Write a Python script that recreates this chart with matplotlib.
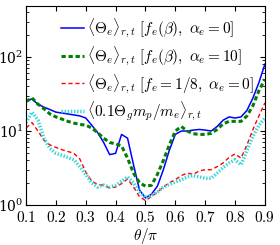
import matplotlib
matplotlib.use('Agg')
import matplotlib.pyplot as plt
import numpy as np

plt.rcParams['mathtext.fontset'] = 'cm'
plt.rcParams['font.family'] = 'serif'

theta = [0.10, 0.12, 0.14, 0.16, 0.18, 0.20, 0.22, 0.24, 0.26, 0.28,
         0.30, 0.32, 0.34, 0.36, 0.38, 0.40, 0.42, 0.44, 0.46, 0.48,
         0.50, 0.52, 0.54, 0.56, 0.58, 0.60, 0.62, 0.64, 0.66, 0.68,
         0.70, 0.72, 0.74, 0.76, 0.78, 0.80, 0.82, 0.84, 0.86, 0.88, 0.90]

# <Theta_e> with f_e(beta), alpha_e = 0
te_beta = [26, 27, 23, 21, 19.5, 18, 17.5, 17, 16.5, 16,
           15, 12, 9.5, 7, 4.8, 5.0, 9.0, 8.0, 3.5, 1.6,
           1.25, 1.4, 1.8, 3.0, 5.5, 9.0, 10, 10, 10.3, 10.5,
           10.3, 10, 11.5, 14, 15.5, 15, 15.5, 19, 28, 45, 80]

# <Theta_e> with f_e(beta), alpha_e = 10
te_beta_a10 = [25, 28, 23, 20, 17, 15.5, 14.5, 13.5, 12.8, 12.3,
               12, 11, 9.5, 8, 7, 6.7, 6.3, 4.3, 2.7, 2.0,
               1.8, 1.85, 2.6, 4, 6.5, 10, 11.5, 10, 9.2, 9,
               9, 9.3, 10.5, 12.5, 13.5, 13.5, 13.5, 16, 22, 35, 50]

# <Theta_e> with f_e = 1/8, alpha_e = 0
te_const = [11, 13, 10, 7.5, 6.5, 6.0, 5.6, 5.3, 5.0, 4.2,
            2.8, 2.1, 1.9, 1.85, 1.7, 1.75, 1.95, 2.25, 1.75, 1.3,
            1.15, 1.3, 1.5, 1.75, 2.0, 2.2, 2.5, 2.7, 2.6, 2.9,
            3.0, 3.0, 3.3, 3.7, 4.4, 4.9, 4.3, 6.5, 10.5, 16, 24]

# <0.1 Theta_g m_p/m_e>
tg_scaled = [13, 18, 14, 8, 5.8, 5.0, 4.7, 4.4, 4.1, 3.3,
             2.6, 2.0, 1.75, 1.86, 1.75, 1.85, 2.1, 2.4, 2.0, 1.5,
             1.25, 1.35, 1.5, 1.75, 1.9, 2.05, 2.2, 2.4, 2.5, 2.4,
             2.3, 2.3, 2.7, 3.2, 3.7, 4.1, 3.5, 5.5, 8.5, 12, 15]

labels = [r'$\langle\Theta_e\rangle_{r,t}\ [f_e(\beta),\ \alpha_e=0]$',
          r'$\langle\Theta_e\rangle_{r,t}\ [f_e(\beta),\ \alpha_e=10]$',
          r'$\langle\Theta_e\rangle_{r,t}\ [f_e=1/8,\ \alpha_e=0]$',
          r'$\langle\mathsf{0.1}\Theta_g m_p/m_e\rangle_{r,t}$']

xticks = [0.1, 0.2, 0.3, 0.4, 0.5, 0.6, 0.7, 0.8, 0.9]

fig = plt.figure(figsize=(2.8, 2.45), dpi=100)
ax = fig.add_axes([0.093, 0.163, 0.853, 0.813])

ax.plot(theta, te_beta, color='#0000ff', lw=1.1, label=labels[0])
ax.plot(theta, te_beta_a10, color='#008000', lw=2.2, ls=(0, (1.4, 0.9)), label=labels[1])
ax.plot(theta, te_const, color='#ff0000', lw=1.0, ls=(0, (3, 2)), label=labels[2])
ax.plot(theta, tg_scaled, color='#33d6d6', lw=2.5, ls=(0, (0.4, 0.5)), label=labels[3])

ax.set_yscale('log')
ax.set_xlim(0.1, 0.9)
ax.set_ylim(1, 490)
ax.set_xticks(xticks)
ax.set_xticklabels([f'${t:.1f}$' for t in xticks])
ax.tick_params(which='both', direction='in', top=True, right=True)
ax.tick_params(axis='x', labelsize=11, pad=3.5)
ax.tick_params(axis='y', labelsize=10, pad=2)
ax.set_xlabel(r'$\theta/\pi$', fontsize=11, labelpad=0.5)

ax.legend(loc='upper right', fontsize=11, frameon=False, handlelength=1.45,
          handletextpad=0.25, labelspacing=0.3, borderaxespad=0.4,
          borderpad=0.3)

fig.savefig('out.png', dpi=100)
